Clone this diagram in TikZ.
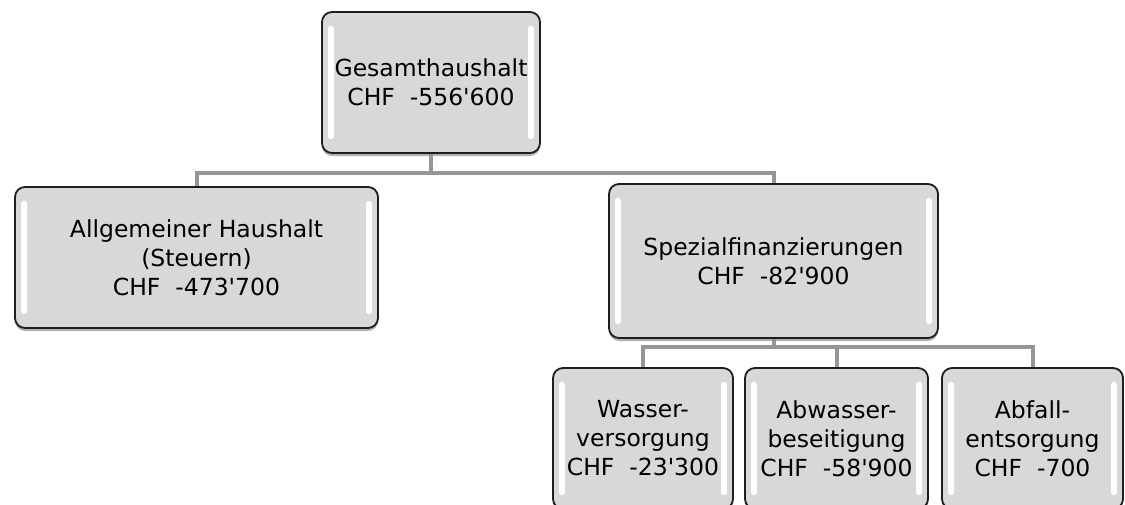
\documentclass[tikz,border=0pt]{standalone}
\usepackage{fontspec}
\setmainfont{DejaVu Sans}
\usetikzlibrary{shadows}
\tikzset{>=stealth}
\definecolor{boxgray}{RGB}{216,216,216}
\definecolor{linegray}{RGB}{150,150,150}
\definecolor{edgegray}{RGB}{30,30,30}
\newcommand{\apo}{\textquotesingle}
\tikzset{
  orgbox/.style={draw=edgegray, line width=1.8pt, fill=boxgray, rounded corners=10pt,
    align=center, inner sep=0pt, font=\fontsize{23.5}{29}\selectfont,
    drop shadow={shadow xshift=0pt, shadow yshift=-3pt, opacity=0.3, fill=black},
    path picture={
      \fill[white, rounded corners=2.5pt] ([xshift=6pt,yshift=-14pt]path picture bounding box.north west) rectangle ([xshift=12pt,yshift=14pt]path picture bounding box.south west);
      \fill[white, rounded corners=2.5pt] ([xshift=-6pt,yshift=-14pt]path picture bounding box.north east) rectangle ([xshift=-12pt,yshift=14pt]path picture bounding box.south east);
    }},
  conn/.style={draw=linegray, line width=4pt}
}

\begin{document}
\begin{tikzpicture}[x=1pt, y=-1pt]
\useasboundingbox (0,0) rectangle (1125,504);
\clip (0,0) rectangle (1125,504);
\node[orgbox, minimum width=218, minimum height=141] (ges) at (431,82.5) {Gesamthaushalt\\CHF\ \ -556\apo600};
\node[orgbox, minimum width=363, minimum height=141] (allg) at (196.5,257.5) {Allgemeiner Haushalt\\(Steuern)\\CHF\ \ -473\apo700};
\node[orgbox, minimum width=329, minimum height=154] (spez) at (773.5,261) {Spezialfinanzierungen\\CHF\ \ -82\apo900};
\node[orgbox, minimum width=180, minimum height=141] (wasser) at (643,438.5) {Wasser-\\versorgung\\CHF\ \ -23\apo300};
\node[orgbox, minimum width=183, minimum height=141] (abwasser) at (836.5,438.5) {Abwasser-\\beseitigung\\CHF\ \ -58\apo900};
\node[orgbox, minimum width=181, minimum height=141] (abfall) at (1032.5,438.5) {Abfall-\\entsorgung\\CHF\ \ -700};
\draw[conn] (ges.south) -- ++(0,19) -| (allg.north);
\draw[conn] (ges.south) -- ++(0,19) -| (spez.north);
\draw[conn] (spez.south) -- ++(0,8) -| (wasser.north);
\draw[conn] (spez.south) -- ++(0,8) -| (abwasser.north);
\draw[conn] (spez.south) -- ++(0,8) -| (abfall.north);
\end{tikzpicture}
\end{document}
